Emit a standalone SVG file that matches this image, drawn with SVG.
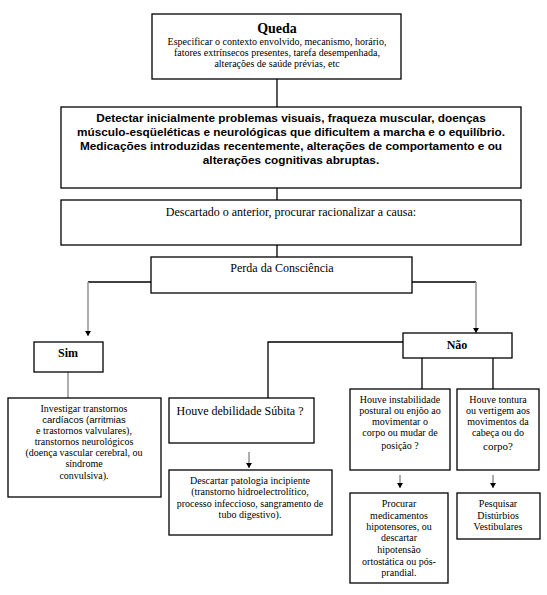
<svg xmlns="http://www.w3.org/2000/svg" width="547" height="595" viewBox="0 0 547 595">
<style>
  .box { fill: #fff; stroke: #000; stroke-width: 1.3; }
  .t { font-family: "Liberation Serif", "Times New Roman", serif; fill: #000; text-anchor: middle; }
  .s10 { font-size: 10px; }
  .s12 { font-size: 12px; }
  .b { font-weight: bold; }
  .a { font-family: "Liberation Sans", Arial, sans-serif; font-weight: bold; font-size: 11.8px; text-anchor: middle; fill: #000; }
  .blk { fill: none; stroke: #000; stroke-width: 1.3; }
  .gry { fill: none; stroke: #999; stroke-width: 1.6; }
</style>
<defs>
  <marker id="arr" markerWidth="6" markerHeight="6" refX="5" refY="3" orient="auto" markerUnits="userSpaceOnUse">
    <path d="M0,0 L5,3 L0,6 Z" fill="#000"/>
  </marker>
</defs>
<rect width="547" height="595" fill="#fff"/>

<g id="connectors">
  <line class="blk" x1="277" y1="79" x2="277" y2="107"/>
  <line class="blk" x1="277" y1="188" x2="277" y2="200"/>
  <line class="blk" x1="277" y1="245" x2="277" y2="257"/>
  <polyline class="blk" points="151,282 88,282"/>
  <line class="gry" x1="88" y1="282" x2="88" y2="336" marker-end="url(#arr)"/>
  <polyline class="blk" points="412,282 476,282"/>
  <line class="gry" x1="476" y1="282" x2="476" y2="333" marker-end="url(#arr)"/>
  <line class="gry" x1="68" y1="372" x2="68" y2="398"/>
  <polyline class="blk" points="403,342 268,342 268,398"/>
  <line class="gry" x1="249" y1="452" x2="249" y2="468" marker-end="url(#arr)"/>
  <line class="blk" x1="422" y1="358" x2="422" y2="389"/>
  <line class="blk" x1="493" y1="358" x2="493" y2="389"/>
  <line class="gry" x1="400" y1="475" x2="400" y2="488" marker-end="url(#arr)"/>
  <line class="gry" x1="493" y1="475" x2="493" y2="488" marker-end="url(#arr)"/>
</g>

<g id="queda">
  <rect class="box" x="152" y="14" width="249" height="65"/>
  <text class="t b" x="277" y="33" font-size="14">Queda</text>
  <text class="t s10" x="277" y="45">Especificar o contexto envolvido, mecanismo,  horário,</text>
  <text class="t s10" x="277" y="56">fatores extrínsecos presentes, tarefa desempenhada,</text>
  <text class="t s10" x="277" y="67">alterações de saúde prévias, etc</text>
</g>

<g id="detectar">
  <rect class="box" x="61" y="107" width="460" height="81"/>
  <text class="a" x="291" y="122">Detectar inicialmente problemas visuais, fraqueza muscular, doenças</text>
  <text class="a" x="291" y="136">músculo-esqüeléticas e neurológicas que dificultem a marcha e o equilíbrio.</text>
  <text class="a" x="291" y="150">Medicações introduzidas recentemente, alterações de comportamento e ou</text>
  <text class="a" x="291" y="164">alterações cognitivas abruptas.</text>
</g>

<g id="descartado">
  <rect class="box" x="61" y="200" width="460" height="45"/>
  <text class="t s12" x="291" y="216">Descartado o anterior, procurar racionalizar a causa:</text>
</g>

<g id="perda">
  <rect class="box" x="151" y="257" width="261" height="36"/>
  <text class="t s12" x="282" y="272">Perda da Consciência</text>
</g>

<g id="sim">
  <rect class="box" x="34" y="342" width="69" height="30"/>
  <text class="t s12 b" x="68" y="357">Sim</text>
</g>

<g id="investigar">
  <rect class="box" x="8" y="398" width="153" height="99"/>
  <text class="t s10" x="84" y="412">Investigar transtornos</text>
  <text font-family="Liberation Sans, Arial, sans-serif" font-size="9.5" text-anchor="middle" x="84" y="423">cardíacos (arritmias</text>
  <text class="t s10" x="84" y="434">e trastornos valvulares),</text>
  <text class="t s10" x="84" y="445">transtornos neurológicos</text>
  <text class="t s10" x="84" y="456">(doença vascular cerebral, ou</text>
  <text class="t s10" x="84" y="467">síndrome</text>
  <text class="t s10" x="84" y="479">convulsiva).</text>
</g>

<g id="nao">
  <rect class="box" x="403" y="333" width="109" height="25"/>
  <text class="t s12 b" x="457" y="349">Não</text>
</g>

<g id="debilidade">
  <rect class="box" x="169" y="398" width="145" height="45"/>
  <text class="t s12" x="240" y="415">Houve debilidade Súbita ?</text>
</g>

<g id="patologia">
  <rect class="box" x="169" y="470" width="163" height="65"/>
  <text class="t s10" x="250" y="484">Descartar patologia incipiente</text>
  <text class="t s10" x="250" y="495">(transtorno hidroelectrolítico,</text>
  <text class="t s10" x="250" y="507">processo infeccioso, sangramento de</text>
  <text class="t s10" x="250" y="518">tubo digestivo).</text>
</g>

<g id="instabilidade">
  <rect class="box" x="350" y="389" width="100" height="81"/>
  <text class="t s10" x="400" y="403">Houve instabilidade</text>
  <text class="t s10" x="400" y="414">postural ou enjôo ao</text>
  <text class="t s10" x="400" y="425">movimentar o</text>
  <text class="t s10" x="400" y="436">corpo ou mudar de</text>
  <text class="t s10" x="400" y="449">posição ?</text>
</g>

<g id="tontura">
  <rect class="box" x="457" y="389" width="82" height="81"/>
  <text class="t s10" x="498" y="403">Houve tontura</text>
  <text class="t s10" x="498" y="414">ou vertigem aos</text>
  <text class="t s10" x="498" y="425">movimentos da</text>
  <text class="t s10" x="498" y="436">cabeça ou do</text>
  <text class="t" font-size="11" x="498" y="450">corpo?</text>
</g>

<g id="procurar">
  <rect class="box" x="350" y="493" width="98" height="90"/>
  <text class="t s10" x="399" y="507">Procurar</text>
  <text class="t s10" x="399" y="519">medicamentos</text>
  <text class="t s10" x="399" y="530">hipotensores, ou</text>
  <text class="t s10" x="399" y="541">descartar</text>
  <text class="t s10" x="399" y="553">hipotensão</text>
  <text class="t s10" x="399" y="565">ortostática ou pós-</text>
  <text class="t s10" x="399" y="576">prandial.</text>
</g>

<g id="pesquisar">
  <rect class="box" x="457" y="493" width="83" height="46"/>
  <text class="t s10" x="498" y="507">Pesquisar</text>
  <text class="t s10" x="498" y="519">Distúrbios</text>
  <text class="t s10" x="498" y="530">Vestibulares</text>
</g>
</svg>
